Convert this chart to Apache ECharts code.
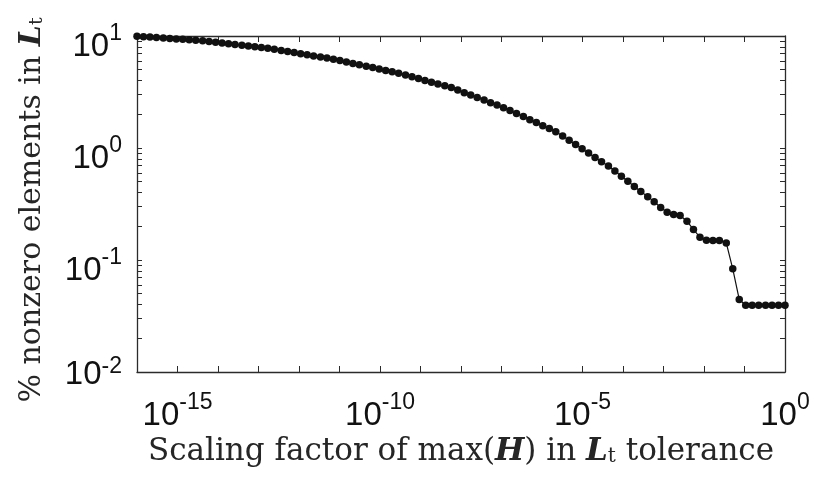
<!DOCTYPE html>
<html>
<head>
<meta charset="utf-8">
<script src="https://cdn.jsdelivr.net/npm/echarts@6.0.0/dist/echarts.min.js"></script>
<style>
  html, body { margin: 0; padding: 0; background: #fff; }
  #chart { width: 815px; height: 479px; }
</style>
</head>
<body>
<div id="chart"></div>
<script>
// tolerance exponents (log10 of scaling factor)
var xExp = [
  -16.00, -15.84, -15.68, -15.52, -15.35, -15.19, -15.03, -14.87, -14.71, -14.55,
  -14.38, -14.22, -14.06, -13.90, -13.74, -13.58, -13.41, -13.25, -13.09, -12.93,
  -12.77, -12.61, -12.44, -12.28, -12.12, -11.96, -11.80, -11.64, -11.47, -11.31,
  -11.15, -10.99, -10.83, -10.67, -10.51, -10.34, -10.18, -10.02, -9.86, -9.70,
  -9.54, -9.37, -9.21, -9.05, -8.89, -8.73, -8.57, -8.40, -8.24, -8.08,
  -7.92, -7.76, -7.60, -7.43, -7.27, -7.11, -6.95, -6.79, -6.63, -6.46,
  -6.30, -6.14, -5.98, -5.82, -5.66, -5.49, -5.33, -5.17, -5.01, -4.85,
  -4.69, -4.53, -4.36, -4.20, -4.04, -3.88, -3.72, -3.56, -3.39, -3.23,
  -3.07, -2.91, -2.75, -2.59, -2.42, -2.26, -2.10, -1.94, -1.78, -1.62,
  -1.45, -1.29, -1.13, -0.97, -0.81, -0.65, -0.48, -0.32, -0.16, 0.00
];
// % nonzero elements in L_t
var pct = [
  9.96, 9.87, 9.78, 9.69, 9.60, 9.51, 9.42, 9.33, 9.25, 9.17,
  9.08, 8.94, 8.80, 8.67, 8.54, 8.41, 8.28, 8.15, 8.03, 7.90,
  7.78, 7.61, 7.44, 7.27, 7.11, 6.95, 6.79, 6.64, 6.49, 6.35,
  6.21, 6.03, 5.86, 5.69, 5.53, 5.37, 5.22, 5.08, 4.93, 4.79,
  4.65, 4.48, 4.32, 4.17, 4.01, 3.87, 3.73, 3.59, 3.46, 3.29,
  3.12, 2.97, 2.82, 2.68, 2.54, 2.42, 2.29, 2.16, 2.03, 1.91,
  1.79, 1.69, 1.58, 1.49, 1.40, 1.28, 1.17, 1.075, 0.984, 0.900,
  0.824, 0.754, 0.691, 0.622, 0.560, 0.504, 0.454, 0.409, 0.368, 0.332,
  0.294, 0.267, 0.255, 0.250, 0.222, 0.187, 0.160, 0.150, 0.149, 0.149,
  0.142, 0.0834, 0.0444, 0.0395, 0.0395, 0.0395, 0.0395, 0.0395, 0.0395, 0.0395
];

var xTicks = [1e-16, 1e-15, 1e-14, 1e-13, 1e-12, 1e-11, 1e-10, 1e-9, 1e-8,
  1e-7, 1e-6, 1e-5, 1e-4, 1e-3, 1e-2, 1e-1, 1];
var xLabels = [1e-15, 1e-10, 1e-5, 1];
var yTicks = [0.01, 0.02, 0.03, 0.04, 0.05, 0.06, 0.07, 0.08, 0.09,
  0.1, 0.2, 0.3, 0.4, 0.5, 0.6, 0.7, 0.8, 0.9,
  1, 2, 3, 4, 5, 6, 7, 8, 9, 10];
var yLabels = [0.01, 0.1, 1, 10];

var axisColor = '#2b2b2b';
var serif = 'DejaVu Serif';
var sans = 'Liberation Sans';

function expOf(v) { return Math.round(Math.log10(v)); }
function powLabelX(v) {
  return '{xb|10}{xs|' + expOf(v) + '}';
}
function powLabelY(v) {
  var e = expOf(v);
  if (e === -2) return '{yb|10}{ys|' + e + '}';
  return '{bs|10}{ss|' + e + '}';
}
function big(pad) {
  return { fontFamily: sans, fontSize: 33, lineHeight: 62, padding: [pad, 0, 0, 0], color: '#111' };
}
function sup(pad) {
  return { fontFamily: sans, fontSize: 23, lineHeight: 62, verticalAlign: 'top', padding: [pad, 0, 0, 0], color: '#111' };
}
var powRich = {
  xb: big(0), xs: sup(6),
  yb: big(6), ys: sup(14),
  bs: big(22), ss: sup(17)
};

var titleRich = {
  n: { fontFamily: serif, fontSize: 31, color: '#262626' },
  bi: { fontFamily: serif, fontSize: 31, fontWeight: 'bold', fontStyle: 'italic', color: '#262626' },
  sub: { fontFamily: serif, fontSize: 20, color: '#262626', verticalAlign: 'bottom', lineHeight: 24 }
};
var titleRichY = {
  n: { fontFamily: serif, fontSize: 30, color: '#262626' },
  bi: { fontFamily: serif, fontSize: 30, fontWeight: 'bold', fontStyle: 'italic', color: '#262626' },
  sub: { fontFamily: serif, fontSize: 19, color: '#262626', verticalAlign: 'bottom', lineHeight: 23 }
};

var points = xExp.map(function (e, i) { return [Math.pow(10, e), pct[i]]; });

var chart = echarts.init(document.getElementById('chart'));
chart.setOption({
  animation: false,
  backgroundColor: '#fff',
  grid: { left: 137, top: 36, width: 648, height: 336 },
  xAxis: [{
    type: 'log', logBase: 10, min: 1e-16, max: 1, position: 'bottom',
    axisLine: { lineStyle: { color: axisColor, width: 1.3 } },
    axisTick: { inside: true, length: 6, customValues: xTicks, lineStyle: { color: axisColor } },
    axisLabel: { customValues: xLabels, formatter: powLabelX, rich: powRich, margin: 13 },
    splitLine: { show: false },
    name: '{n|Scaling factor of max(}{bi|H}{n|) in }{bi|L}{sub|t}{n| tolerance}',
    nameLocation: 'middle', nameGap: 64, nameMoveOverlap: false,
    nameTextStyle: { rich: titleRich }
  }, {
    type: 'log', logBase: 10, min: 1e-16, max: 1, position: 'top',
    axisLine: { lineStyle: { color: axisColor, width: 1.3 } },
    axisTick: { inside: true, length: 6, customValues: xTicks, lineStyle: { color: axisColor } },
    axisLabel: { show: false },
    splitLine: { show: false }
  }],
  yAxis: [{
    type: 'log', logBase: 10, min: 0.01, max: 10, position: 'left',
    axisLine: { lineStyle: { color: axisColor, width: 1.3 } },
    axisTick: { inside: true, length: 5, customValues: yTicks, lineStyle: { color: axisColor } },
    axisLabel: { customValues: yLabels, formatter: powLabelY, rich: powRich, margin: 15 },
    splitLine: { show: false },
    name: '{n|% nonzero elements in }{bi|L}{sub|t}',
    nameLocation: 'middle', nameGap: 90, nameRotate: 90, nameMoveOverlap: false,
    nameTextStyle: { rich: titleRichY, padding: [0, 12, 0, 0] }
  }, {
    type: 'log', logBase: 10, min: 0.01, max: 10, position: 'right',
    axisLine: { lineStyle: { color: axisColor, width: 1.3 } },
    axisTick: { inside: true, length: 5, customValues: yTicks, lineStyle: { color: axisColor } },
    axisLabel: { show: false },
    splitLine: { show: false }
  }],
  series: [{
    type: 'line',
    data: points,
    symbol: 'circle',
    symbolSize: 7.5,
    itemStyle: { color: '#111' },
    lineStyle: { color: '#111', width: 1.2 },
    clip: false
  }]
});
</script>
</body>
</html>
